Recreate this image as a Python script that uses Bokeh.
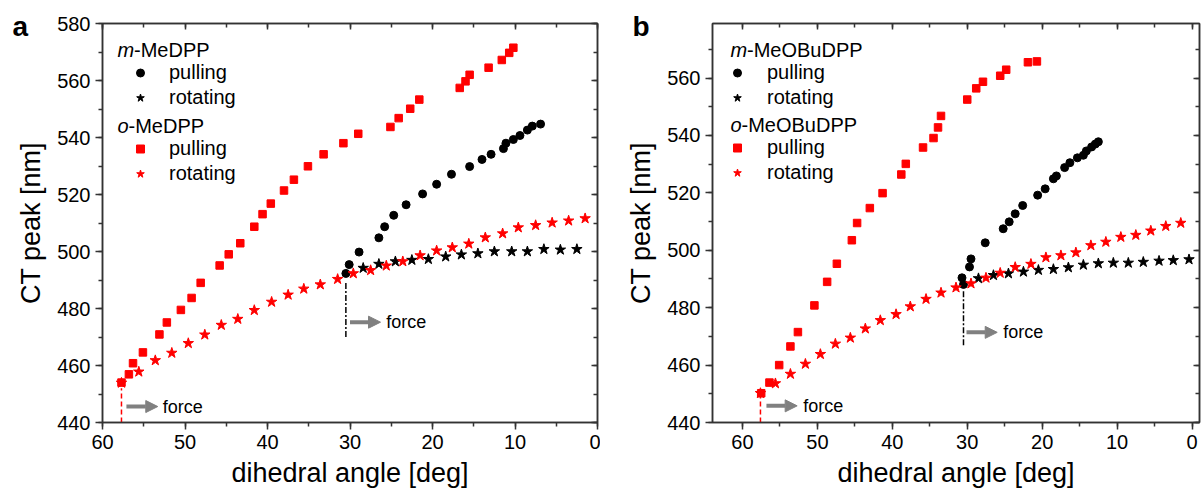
from bokeh.plotting import figure
from bokeh.models import (Range1d, LinearAxis, SingleIntervalTicker, Legend, LegendItem,
                          Label, Arrow, NormalHead, CustomJSTickFormatter)
from bokeh.layouts import row
from bokeh.embed import file_html
from bokeh.resources import INLINE

FONT = "Liberation Sans"
RED = "#ff0000"
BLACK = "#000000"
GRAY = "#808080"
AX = "#333333"

# ---------------- Panel a data ----------------
a_m_pull_x = [30.5, 30.1, 28.9, 26.5, 25.8, 24.7, 23.2, 21.2, 19.5, 17.7, 15.5, 14.0, 12.9,
              11.4, 11.1, 10.2, 9.4, 8.5, 7.9, 6.9]
a_m_pull_y = [492.3, 495.4, 499.8, 504.8, 508.7, 512.7, 516.4, 520.2, 523.6, 527.1, 529.8,
              532.3, 534.1, 536.1, 538.0, 539.3, 540.7, 542.6, 544.0, 544.7]
a_m_rot_x = [28.4, 26.5, 24.5, 22.5, 20.5, 18.4, 16.5, 14.5, 12.5, 10.4, 8.5, 6.5, 4.5, 2.5]
a_m_rot_y = [494.2, 495.6, 496.5, 497.0, 497.3, 498.2, 498.9, 499.3, 500.0, 500.0, 500.0,
             500.8, 500.6, 500.8]
a_o_pull_x = [57.7, 56.8, 56.3, 55.1, 53.1, 52.2, 50.5, 49.2, 48.1, 45.8, 44.7, 43.3, 41.6,
              40.6, 39.6, 38.0, 36.8, 35.1, 33.2, 30.8, 29.0, 25.1, 24.1, 22.7, 21.6, 16.7,
              16.0, 15.5, 13.2, 11.6, 10.7, 10.2]
a_o_pull_y = [454.0, 456.9, 460.8, 464.6, 470.9, 475.1, 479.5, 483.7, 489.0, 495.1, 499.0,
              502.9, 508.7, 513.1, 516.8, 521.4, 525.2, 529.9, 534.1, 538.0, 541.3, 543.7,
              546.8, 550.1, 553.3, 557.4, 559.7, 562.0, 564.5, 567.2, 569.7, 571.5]
a_o_rot_x = [57.7, 55.6, 53.6, 51.6, 49.6, 47.6, 45.6, 43.6, 41.6, 39.5, 37.5, 35.6, 33.6,
             31.5, 29.6, 27.5, 25.6, 23.6, 21.5, 19.5, 17.6, 15.6, 13.6, 11.5, 9.6, 7.5,
             5.5, 3.5, 1.5]
a_o_rot_y = [453.9, 457.8, 461.8, 464.4, 467.8, 470.8, 474.2, 476.3, 479.4, 482.3, 484.8,
             486.9, 488.4, 490.3, 492.3, 493.4, 495.0, 496.5, 498.6, 500.3, 501.4, 502.7,
             504.9, 506.3, 508.4, 509.2, 510.1, 510.8, 511.6]

# ---------------- Panel b data ----------------
b_m_pull_x = [30.5, 30.7, 29.7, 29.5, 27.6, 25.2, 24.4, 23.6, 22.6, 20.6, 19.6, 18.5, 18.1,
              17.0, 16.3, 15.3, 14.5, 14.1, 13.4, 12.9, 12.5]
b_m_pull_y = [488.1, 490.4, 494.2, 497.0, 502.6, 507.5, 509.9, 512.7, 515.6, 519.2, 521.4,
              524.9, 525.9, 528.8, 530.5, 532.2, 533.1, 534.6, 536.0, 537.0, 537.8]
b_m_rot_x = [28.5, 26.5, 24.5, 22.5, 20.5, 18.5, 16.5, 14.5, 12.5, 10.5, 8.5, 6.5, 4.4, 2.5, 0.4]
b_m_rot_y = [490.2, 491.3, 491.9, 492.5, 493.1, 493.4, 494.0, 494.9, 495.4, 495.6, 495.6,
             495.9, 496.3, 496.5, 496.8]
b_o_pull_x = [57.5, 56.4, 55.1, 53.6, 52.6, 50.4, 48.7, 47.4, 45.4, 44.7, 43.0, 41.3, 38.8,
              38.2, 35.9, 34.5, 33.9, 33.5, 30.0, 28.8, 27.9, 25.6, 24.8, 21.9, 20.7]
b_o_pull_y = [450.2, 453.9, 460.0, 466.5, 471.5, 480.8, 489.0, 495.3, 503.5, 509.5, 514.7,
              519.9, 526.4, 530.1, 535.8, 539.1, 542.8, 546.8, 552.5, 556.4, 558.7, 560.8,
              562.9, 565.5, 565.8]
b_o_rot_x = [57.6, 55.6, 53.6, 51.6, 49.6, 47.6, 45.6, 43.6, 41.6, 39.5, 37.6, 35.5, 33.5,
             31.5, 29.5, 27.5, 25.6, 23.6, 21.5, 19.5, 17.5, 15.5, 13.5, 11.5, 9.5, 7.5,
             5.5, 3.5, 1.5]
b_o_rot_y = [450.2, 453.6, 456.9, 460.4, 463.8, 467.4, 469.5, 472.7, 475.6, 477.7, 480.4,
             483.0, 485.2, 487.0, 488.4, 490.4, 492.1, 494.1, 495.2, 497.5, 498.2, 499.2,
             501.7, 502.9, 504.6, 505.3, 506.8, 508.4, 509.5]

x_label = "dihedral angle [deg]"
y_label = "CT peak [nm]"


def style_axes(p):
    for ax in p.xaxis + p.yaxis:
        ax.axis_line_color = AX
        ax.axis_line_width = 1.5
        ax.major_tick_line_color = AX
        ax.minor_tick_line_color = AX
        ax.major_tick_line_width = 1.5
        ax.minor_tick_line_width = 1.5
        ax.major_tick_out = 7
        ax.major_tick_in = 0
        ax.minor_tick_out = 4
        ax.minor_tick_in = 0
        ax.major_label_text_font = FONT
        ax.major_label_text_font_size = "20px"
        ax.major_label_text_color = "black"
        ax.axis_label_text_font = FONT
        ax.axis_label_text_font_size = "27px"
        ax.axis_label_text_font_style = "normal"
        ax.axis_label_text_color = "black"
        ax.major_label_standoff = 5


def mirror(p, xt, yt):
    top = LinearAxis(ticker=xt)
    right = LinearAxis(ticker=yt)
    for ax in (top, right):
        ax.axis_line_color = AX
        ax.axis_line_width = 1.5
        ax.major_tick_line_color = AX
        ax.minor_tick_line_color = AX
        ax.major_tick_line_width = 1.5
        ax.minor_tick_line_width = 1.5
        ax.major_tick_in = 6
        ax.major_tick_out = 0
        ax.minor_tick_in = 4
        ax.minor_tick_out = 0
        ax.formatter = CustomJSTickFormatter(code="return ''")
        ax.major_label_text_font_size = "1px"
        ax.major_label_standoff = 0
    p.add_layout(top, "above")
    p.add_layout(right, "right")


def make_panel(xr, yr, width, mbl, mbr, mbt, data, names, letter, letter_off,
               leg_x, leg_y1, leg_y2, leg_standoff, head_x, head_w, head_y1, head_y2,
               annot):
    p = figure(width=width, height=494, output_backend="svg", toolbar_location=None,
               x_range=Range1d(*xr), y_range=Range1d(*yr),
               min_border_left=mbl, min_border_right=mbr, min_border_top=mbt,
               min_border_bottom=72)
    p.grid.visible = False
    p.outline_line_color = AX
    p.outline_line_width = 1.5
    p.background_fill_color = "white"
    p.border_fill_color = "white"

    # panel letter as the plot title (side panel, so it is not clipped)
    p.title.text = letter
    p.title.align = "left"
    p.title.offset = letter_off
    p.title.text_font = FONT
    p.title.text_font_size = "28px"
    p.title.text_font_style = "bold"
    p.title.text_color = "black"
    p.title.standoff = -37

    xt = SingleIntervalTicker(interval=10, num_minor_ticks=2)
    yt = SingleIntervalTicker(interval=20, num_minor_ticks=2)
    p.xaxis.ticker = xt
    p.yaxis.ticker = yt
    p.xaxis.axis_label = x_label
    p.yaxis.axis_label = y_label
    p.xaxis.axis_label_standoff = 6
    p.yaxis.axis_label_standoff = 8
    style_axes(p)
    mirror(p, xt, yt)

    (mpx, mpy), (mrx, mry), (opx, opy), (orx, ory) = data
    r_mp = p.scatter(mpx, mpy, marker="circle", size=8, color=BLACK)
    r_mr = p.scatter(mrx, mry, marker="star", size=11, color=BLACK)
    r_op = p.scatter(opx, opy, marker="square", size=7.5, color=RED)
    r_or = p.scatter(orx, ory, marker="star", size=11, color=RED)

    # annotations: dashed guide lines + arrows + "force"
    for (x0, y0, y1, col, dash, ax0, ax1, ay, tx) in annot:
        p.segment(x0=[x0], y0=[y0], x1=[x0], y1=[y1], line_color=col, line_width=1.5,
                  line_dash=dash)
        p.add_layout(Arrow(x_start=ax0, y_start=ay, x_end=ax1, y_end=ay,
                           line_color=GRAY, line_width=4,
                           end=NormalHead(size=12, fill_color=GRAY, line_color=GRAY)))
        p.add_layout(Label(x=tx, y=ay, text="force", text_font=FONT, text_font_size="18px",
                           text_baseline="middle", text_color="black"))

    common = dict(background_fill_alpha=0, border_line_alpha=0, padding=0, spacing=0,
                  glyph_width=20, glyph_height=25, label_height=25,
                  label_standoff=leg_standoff, label_text_font=FONT,
                  label_text_font_size="20px", label_text_color="black", margin=0)
    lg1 = Legend(items=[LegendItem(label="pulling", renderers=[r_mp]),
                        LegendItem(label="rotating", renderers=[r_mr])],
                 location=(leg_x, leg_y1), **common)
    lg2 = Legend(items=[LegendItem(label="pulling", renderers=[r_op]),
                        LegendItem(label="rotating", renderers=[r_or])],
                 location=(leg_x, leg_y2), **common)
    p.add_layout(lg1)
    p.add_layout(lg2)

    for (txt, hy) in ((names[0], head_y1), (names[1], head_y2)):
        p.add_layout(Label(x=head_x, y=hy, x_units="screen", y_units="screen",
                           text=txt[0], text_font=FONT, text_font_size="20px",
                           text_font_style="italic", text_baseline="alphabetic",
                           text_color="black"))
        p.add_layout(Label(x=head_x + (head_w if txt[0] == "m" else 11), y=hy,
                           x_units="screen", y_units="screen",
                           text=txt[1:], text_font=FONT, text_font_size="20px",
                           text_baseline="alphabetic", text_color="black"))
    return p


pa = make_panel((60, 0), (440, 580), 600, 102, 3, 22,
                [(a_m_pull_x, a_m_pull_y), (a_m_rot_x, a_m_rot_y),
                 (a_o_pull_x, a_o_pull_y), (a_o_rot_x, a_o_rot_y)],
                ("m-MeDPP", "o-MeDPP"), "a", -90,
                28, 312, 236, 19, 15, 16.5, 373, 297,
                [(57.7, 440, 452, RED, "5 3", 57.1, 53.3, 445.6, 52.7),
                 (30.5, 470, 489.5, BLACK, "6 2 2 2", 30.0, 26.3, 475.2, 25.6)])

pb = make_panel((64, -1), (440, 579), 601, 112, 2, 23,
                [(b_m_pull_x, b_m_pull_y), (b_m_rot_x, b_m_rot_y),
                 (b_o_pull_x, b_o_pull_y), (b_o_rot_x, b_o_rot_y)],
                ("m-MeOBuDPP", "o-MeOBuDPP"), "b", -80,
                15, 312, 237, 20, 18, 16.5, 373, 298,
                [(57.6, 440, 449, RED, "5 3", 56.8, 52.7, 445.8, 51.9),
                 (30.5, 466.9, 486.1, BLACK, "6 2 2 2", 30.1, 26.0, 471.4, 25.2)])

layout = row(pa, pb)
open("out.html", "w").write(file_html(layout, INLINE))
